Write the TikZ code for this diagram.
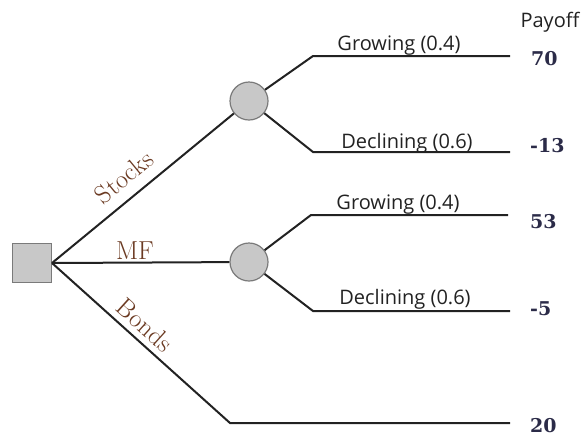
\documentclass[tikz,border=0pt]{standalone}
\usepackage{fontspec}
\newfontfamily\lblfont{Open Sans}
\newfontfamily\payfont{DejaVu Serif}
\definecolor{linec}{HTML}{222222}
\definecolor{fillg}{HTML}{C8C8C8}
\definecolor{edgeg}{HTML}{7A7A7A}
\definecolor{brownc}{HTML}{6B3A22}
\definecolor{navyc}{HTML}{2B2B48}
\begin{document}
\begin{tikzpicture}[x=1pt,y=-1pt,
  branch/.style={draw=linec,line width=2pt},
  decision/.style={draw=edgeg,fill=fillg,line width=1.2pt,minimum size=39pt,inner sep=0pt},
  chance/.style={circle,draw=edgeg,fill=fillg,line width=1.2pt,minimum size=38pt,inner sep=0pt},
  prob/.style={font=\lblfont\fontsize{20}{22}\selectfont,text=linec,inner sep=0pt,anchor=base},
  alt/.style={font=\fontsize{26}{28}\selectfont,text=brownc,inner sep=0pt},
  pay/.style={font=\payfont\bfseries\fontsize{19}{21}\selectfont,text=navyc,inner sep=0pt,anchor=base west}]
\useasboundingbox (0,0) rectangle (585,437);
\node[decision] (sq) at (32,263) {};
\coordinate (o) at (52,263);
\node[chance] (c1) at (249,101) {};
\node[chance] (c2) at (249,262) {};
% corners and ends
\coordinate (g1) at (313,56);
\coordinate (g1e) at (510,56);
\coordinate (d1) at (313,152);
\coordinate (d1e) at (510,152);
\coordinate (g2) at (311,215);
\coordinate (g2e) at (508,215);
\coordinate (d2) at (313,311);
\coordinate (d2e) at (510,311);
\coordinate (b) at (230,423);
\coordinate (be) at (510,423);
% lines
\draw[branch] (o) -- (c1);
\draw[branch] (o) -- (c2);
\draw[branch] (o) -- (b) -- (be);
\draw[branch] (c1) -- (g1) -- (g1e);
\draw[branch] (c1) -- (d1) -- (d1e);
\draw[branch] (c2) -- (g2) -- (g2e);
\draw[branch] (c2) -- (d2) -- (d2e);
% labels
\node[alt,rotate=39.4] (ls) at (124,177) {Stocks};
\node[alt,anchor=base] (lm) at (135,259) {MF};
\node[alt,rotate=-42] (lb) at (145,325) {Bonds};
\node[prob] (p1) at (399,50) {Growing (0.4)};
\node[prob] (p2) at (407,148) {Declining (0.6)};
\node[prob] (p3) at (398,209) {Growing (0.4)};
\node[prob] (p4) at (405,304) {Declining (0.6)};
\node[prob] (ph) at (550,27) {Payoff};
\node[pay] (v1) at (531,65) {70};
\node[pay] (v2) at (530,152) {-13};
\node[pay] (v3) at (530,228) {53};
\node[pay] (v4) at (530,315) {-5};
\node[pay] (v5) at (530,432) {20};
\end{tikzpicture}
\end{document}
